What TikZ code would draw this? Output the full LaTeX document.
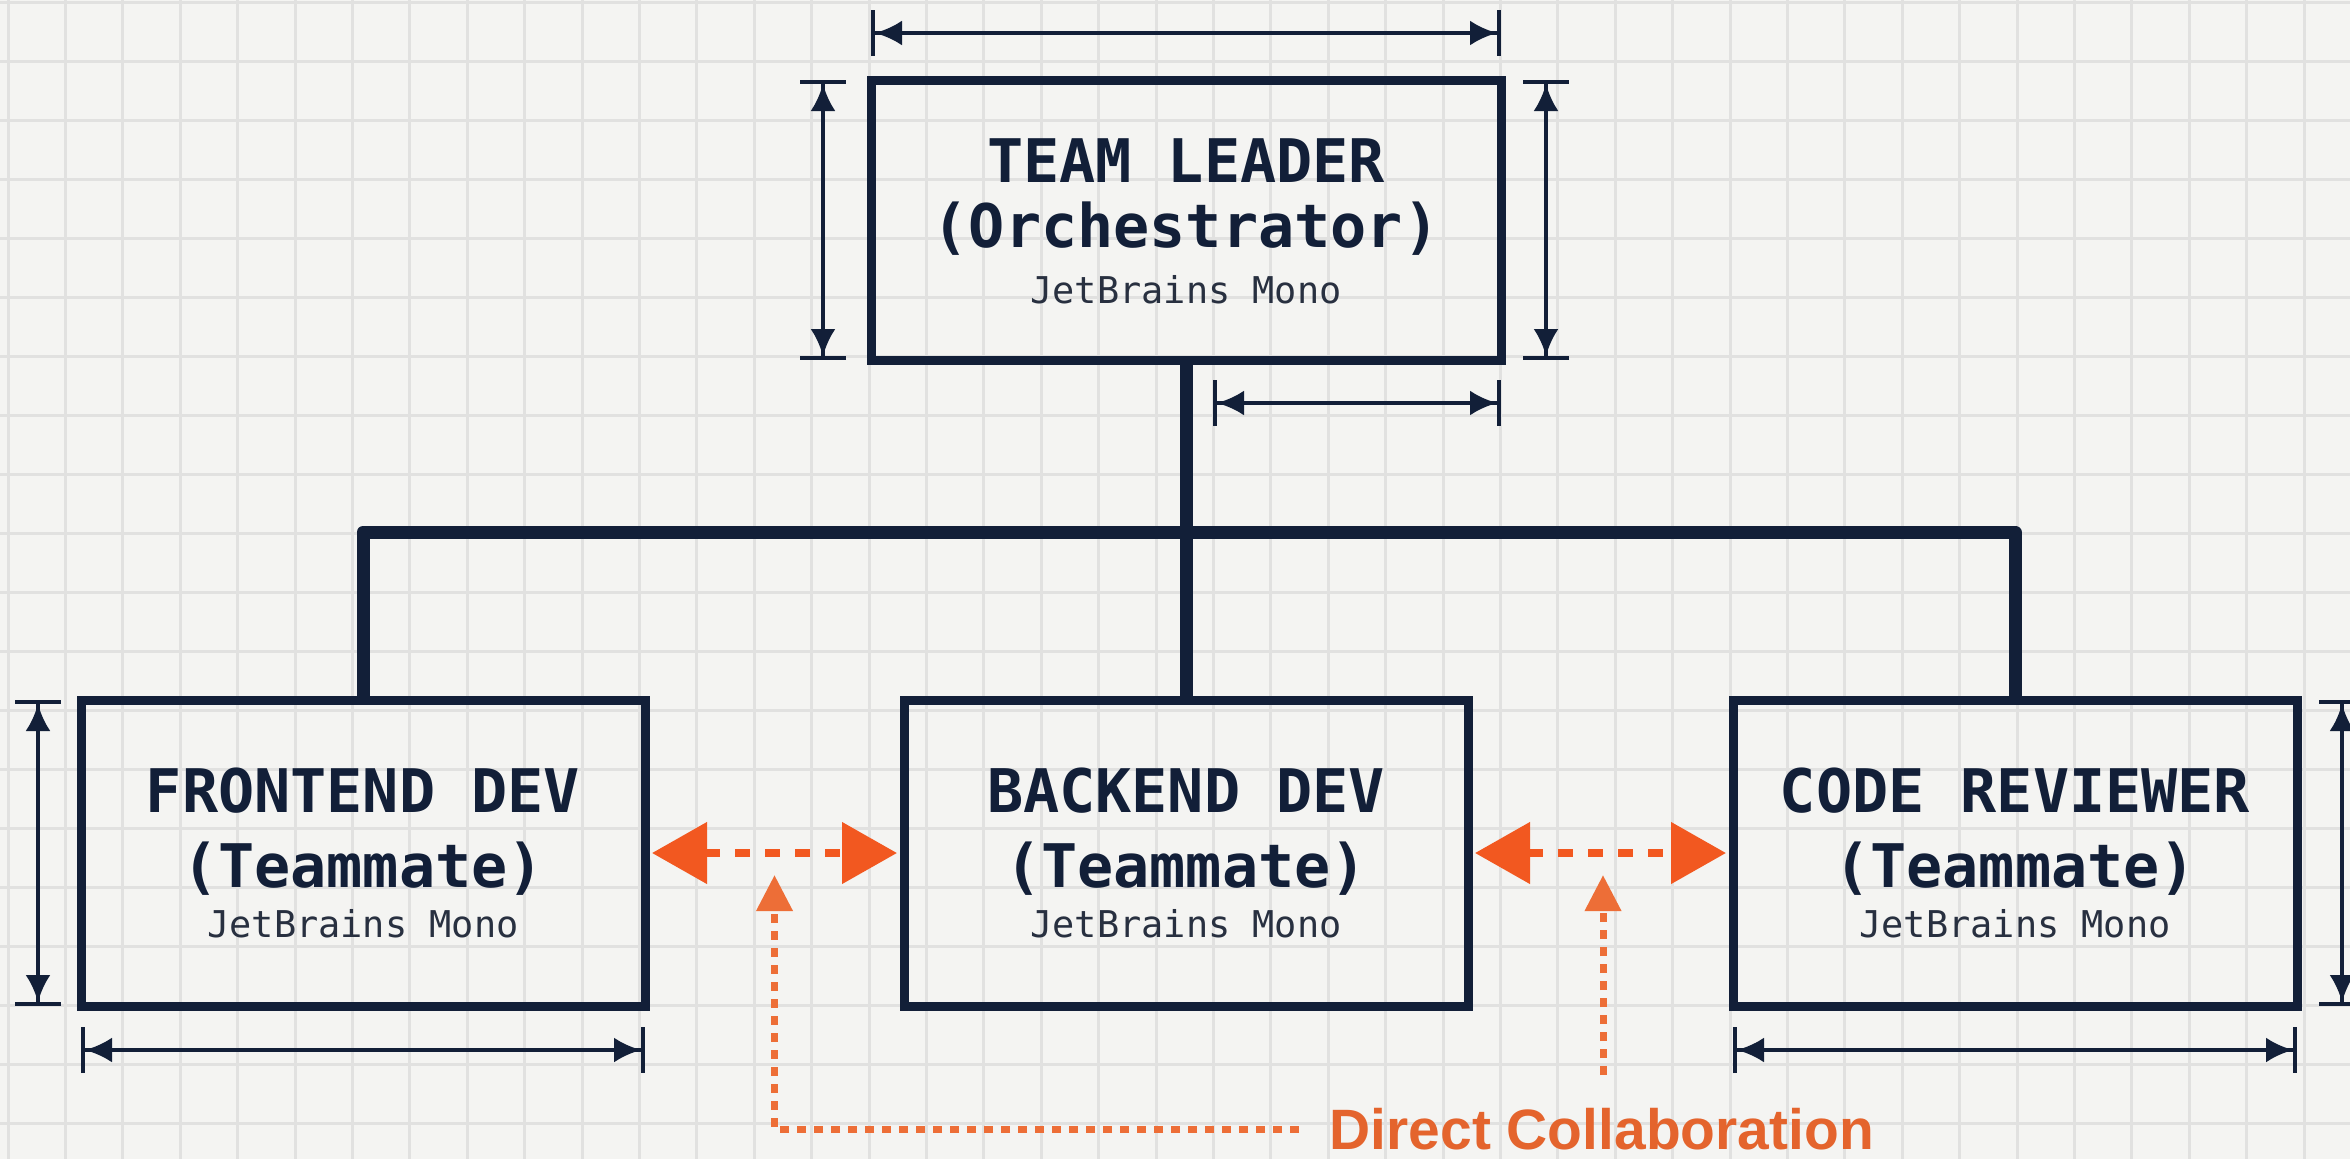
\documentclass[tikz,border=0pt]{standalone}
\usepackage{fontspec}
\usepackage{tikz}
\usetikzlibrary{arrows.meta}
\newfontfamily\monofont{DejaVu Sans Mono}
\newfontfamily\labelfont{Liberation Sans}
\definecolor{navy}{RGB}{18,31,56}
\definecolor{inkgray}{RGB}{40,48,64}
\definecolor{paper}{RGB}{244,244,242}
\definecolor{gridgray}{RGB}{225,225,224}
\definecolor{flame}{RGB}{242,88,32}
\definecolor{ember}{RGB}{237,110,55}
\definecolor{rust}{RGB}{228,100,45}

\begin{document}
\begin{tikzpicture}[
  box/.style={draw=navy, line width=0.09cm, outer sep=0pt, inner sep=0pt},
  link/.style={draw=navy, line width=0.13cm, line join=round},
  roletitle/.style={font=\monofont\bfseries\fontsize{17.1}{20}\selectfont, text=navy, anchor=base, inner sep=0pt},
  fontnote/.style={font=\monofont\fontsize{10.5}{12}\selectfont, text=inkgray, anchor=base, inner sep=0pt},
  dimline/.style={draw=navy, line width=0.04cm,
    {Bar[width=0.46cm]Latex[length=0.27cm,width=0.25cm]}-{Latex[length=0.27cm,width=0.25cm]Bar[width=0.46cm]}},
  collab/.style={draw=flame, line width=0.08cm, dash pattern=on 0.15cm off 0.15cm,
    {Triangle[length=0.55cm,width=0.6cm]}-{Triangle[length=0.55cm,width=0.6cm]},
    shorten <=0.07cm, shorten >=0.07cm},
  up/.style={draw=ember, line width=0.07cm, dash pattern=on 0.09cm off 0.08cm,
    -{Triangle[length=0.36cm,width=0.35cm]}},
  collabtext/.style={font=\labelfont\bfseries\fontsize{16.2}{19}\selectfont, text=rust,
    inner xsep=0.3cm, inner ysep=0pt}
]
  \useasboundingbox (0,0) rectangle (23.5,11.59);
  \clip (0,0) rectangle (23.5,11.59);
  \fill[paper] (0,0) rectangle (23.5,11.59);
  \foreach \i in {0,...,40}
    \draw[gridgray, line width=0.03cm] ({0.08+0.574*\i},0) -- ++(0,11.59);
  \foreach \j in {0,...,19}
    \draw[gridgray, line width=0.03cm] (0,{11.57-0.59*\j}) -- ++(23.5,0);

  \node[box, minimum width=6.30cm, minimum height=2.80cm] (lead) at (11.86,9.39) {};
  \node[box, minimum width=5.64cm, minimum height=3.06cm] (front) at (3.63,3.06) {};
  \node[box, minimum width=5.64cm, minimum height=3.06cm] (back) at (11.86,3.06) {};
  \node[box, minimum width=5.64cm, minimum height=3.06cm] (review) at (20.15,3.06) {};

  \node[roletitle] (lead-t) at (11.86,9.77) {TEAM LEADER};
  \node[roletitle] (lead-s) at (11.86,9.12) {(Orchestrator)};
  \node[fontnote] (lead-f) at (11.86,8.56) {JetBrains Mono};
  \node[roletitle] (front-t) at (3.63,3.47) {FRONTEND DEV};
  \node[roletitle] (front-s) at (3.63,2.72) {(Teammate)};
  \node[fontnote] (front-f) at (3.63,2.22) {JetBrains Mono};
  \node[roletitle] (back-t) at (11.86,3.47) {BACKEND DEV};
  \node[roletitle] (back-s) at (11.86,2.72) {(Teammate)};
  \node[fontnote] (back-f) at (11.86,2.22) {JetBrains Mono};
  \node[roletitle] (review-t) at (20.15,3.47) {CODE REVIEWER};
  \node[roletitle] (review-s) at (20.15,2.72) {(Teammate)};
  \node[fontnote] (review-f) at (20.15,2.22) {JetBrains Mono};

  \coordinate (bus) at (11.86,6.27);
  \draw[link] (lead.south) -- (back.north);
  \draw[link] (front.north) |- (bus) -| (review.north);

  \draw[dimline] ([yshift=0.47cm]lead.north west) -- ([yshift=0.47cm]lead.north east);
  \draw[dimline] ([xshift=-0.48cm]lead.north west) -- ([xshift=-0.48cm]lead.south west);
  \draw[dimline] ([xshift=0.45cm]lead.north east) -- ([xshift=0.45cm]lead.south east);
  \draw[dimline] ([xshift=0.27cm,yshift=-0.43cm]lead.south) -- ([yshift=-0.43cm]lead.south east);
  \draw[dimline] ([xshift=-0.43cm]front.north west) -- ([xshift=-0.43cm]front.south west);
  \draw[dimline] ([yshift=-0.44cm]front.south west) -- ([yshift=-0.44cm]front.south east);
  \draw[dimline] ([yshift=-0.44cm]review.south west) -- ([yshift=-0.44cm]review.south east);
  \draw[dimline] ([xshift=0.45cm]review.north east) -- ([xshift=0.45cm]review.south east);

  \draw[collab] (front.east) -- (back.west);
  \draw[collab] (back.east) -- (review.west);

  \node[collabtext, anchor=west] (note) at (12.99,0.30) {Direct Collaboration};
  \coordinate (upA) at (7.745,2.84);
  \coordinate (footB) at (16.03,0.84);
  \coordinate (upB) at (16.03,2.84);
  \draw[up] (note.west) -| (upA);
  \draw[up] (footB) -- (upB);
\end{tikzpicture}
\end{document}
